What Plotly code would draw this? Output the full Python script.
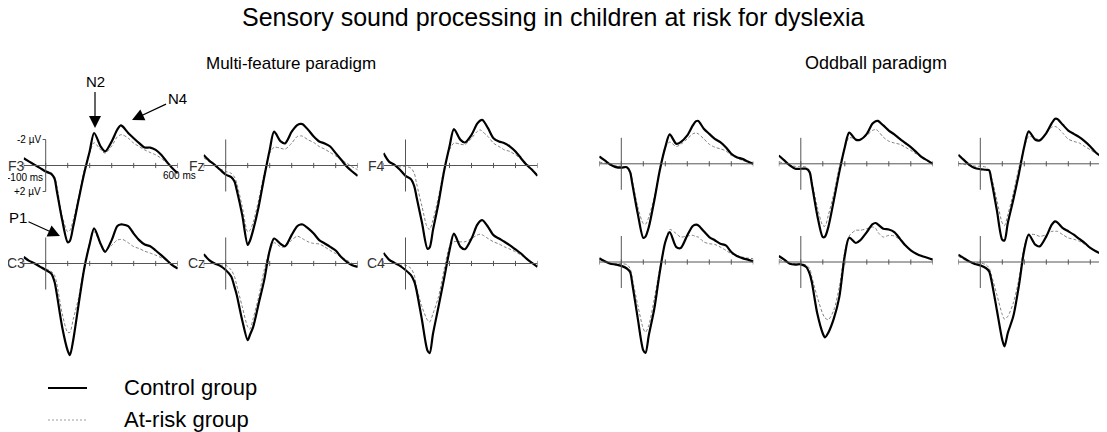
import plotly.graph_objects as go

# ---------------- data (µV, negative up) ----------------
TIME_MS = [-100, -75, -50, -25, 0, 25, 40, 50, 75, 100, 110, 125, 150, 175, 200, 220,
           250, 270, 300, 325, 340, 350, 375, 400, 425, 450, 475, 500, 525, 550, 575, 600]
TICK_MS = [-100, 0, 100, 200, 300, 400, 500, 600]

# Multi-feature paradigm
F3_CONTROL = [-0.56, -0.3, -0.05, 0.2, 0.46, 0.65, 1.0, 1.9, 4.2, 5.9, 5.8, 4.7, 2.6, 0.6, -1.1, -2.5,
              -1.46, -1.08, -1.85, -2.75, -3.08, -3.0, -2.5, -2.1, -1.72, -1.38, -1.38, -1.2, -0.82, -0.3, 0.2, 0.6]
F3_ATRISK = [-0.5, -0.3, -0.05, 0.2, 0.4, 0.55, 0.85, 1.5, 3.9, 5.1, 5.0, 4.2, 2.4, 0.4, -1.0, -1.75,
             -1.2, -0.95, -1.5, -2.2, -2.36, -2.36, -2.1, -1.72, -1.46, -1.2, -1.0, -0.82, -0.56, -0.18, 0.2, 0.6]
FZ_CONTROL = [-0.8, -0.38, -0.05, 0.33, 0.7, 0.9, 1.23, 1.87, 3.8, 6.1, 5.8, 4.95, 3.15, 0.9, -1.2, -2.6,
              -1.85, -1.7, -2.6, -3.1, -3.2, -3.18, -2.74, -2.23, -1.85, -1.7, -1.46, -0.95, -0.44, 0.08, 0.46, 0.8]
FZ_ATRISK = [-0.6, -0.3, -0.05, 0.25, 0.46, 0.6, 0.9, 1.36, 3.15, 5.1, 5.0, 4.36, 2.64, 0.6, -0.95, -1.4,
             -1.33, -1.26, -1.72, -2.23, -2.28, -2.25, -1.97, -1.77, -1.46, -1.26, -1.0, -0.74, -0.45, -0.18, 0.1, 0.33]
F4_CONTROL = [-0.95, -0.3, -0.05, 0.33, 0.8, 1.05, 1.6, 2.4, 4.4, 6.4, 6.3, 4.95, 2.9, 0.46, -1.46, -2.8,
              -1.97, -1.77, -2.36, -3.2, -3.46, -3.5, -2.87, -2.1, -1.85, -1.72, -1.46, -1.08, -0.56, -0.05, 0.33, 0.8]
F4_ATRISK = [-0.9, -0.3, -0.05, 0.1, 0.08, 0.2, 0.6, 1.36, 3.15, 4.8, 4.9, 4.2, 2.4, 0.33, -1.2, -1.72,
             -1.64, -1.6, -2.1, -2.6, -2.74, -2.6, -2.23, -1.72, -1.46, -1.2, -1.08, -0.82, -0.5, -0.18, 0.25, 0.7]
C3_CONTROL = [-0.5, -0.2, 0.0, 0.26, 0.5, 0.77, 1.4, 2.3, 4.9, 6.7, 7.05, 5.9, 3.1, 0.4, -1.5, -2.7,
              -1.5, -0.9, -1.8, -2.87, -3.0, -3.0, -2.87, -2.3, -1.8, -1.46, -1.33, -1.0, -0.64, -0.26, 0.13, 0.38]
C3_ATRISK = [-0.45, -0.2, 0.0, 0.2, 0.4, 0.6, 0.9, 1.5, 3.85, 5.3, 5.3, 4.3, 2.6, 0.2, -1.6, -2.45,
             -1.5, -1.0, -1.4, -1.8, -1.85, -1.85, -1.6, -1.3, -1.15, -0.95, -0.8, -0.64, -0.45, -0.26, 0.05, 0.38]
CZ_CONTROL = [-0.72, -0.26, 0.0, 0.18, 0.5, 1.0, 1.8, 2.4, 4.36, 5.9, 5.5, 4.87, 3.08, 1.28, -1.0, -1.92,
              -1.5, -1.33, -2.2, -2.87, -3.0, -3.0, -2.7, -2.3, -1.8, -1.54, -1.28, -1.0, -0.5, -0.13, 0.13, 0.26]
CZ_ATRISK = [-0.7, -0.26, 0.0, 0.13, 0.13, 0.5, 1.0, 1.67, 3.3, 4.87, 5.05, 4.23, 2.56, 0.5, -1.0, -1.6,
             -1.28, -1.28, -1.8, -2.1, -2.0, -1.9, -1.67, -1.54, -1.5, -1.28, -1.0, -0.77, -0.5, -0.26, 0.0, 0.26]
C4_CONTROL = [-0.82, -0.3, -0.05, 0.18, 0.5, 0.9, 1.4, 2.05, 4.36, 6.7, 6.9, 5.4, 3.33, 1.2, -1.0, -2.3,
              -1.28, -1.1, -1.92, -2.95, -3.28, -3.33, -2.82, -2.18, -1.92, -1.67, -1.4, -1.08, -0.77, -0.38, -0.05, 0.26]
C4_ATRISK = [-0.8, -0.3, -0.05, 0.13, 0.13, 0.38, 0.9, 1.8, 3.33, 4.36, 4.5, 3.85, 2.56, 0.5, -1.28, -1.67,
             -1.67, -1.67, -1.92, -2.18, -2.26, -2.2, -1.92, -1.67, -1.5, -1.28, -1.1, -0.9, -0.65, -0.38, -0.05, 0.26]

# Oddball paradigm
OB_F3_CONTROL = [-0.56, -0.26, 0.05, 0.26, 0.3, 0.26, 0.64, 1.54, 3.85, 5.7, 5.6, 4.87, 2.82, 0.5, -1.28, -2.26,
                 -1.54, -1.67, -2.18, -2.95, -3.28, -3.3, -2.7, -2.3, -1.92, -1.67, -1.28, -0.77, -0.51, -0.38, -0.18, 0.0]
OB_F3_ATRISK = [-0.13, -0.05, 0.1, 0.15, 0.2, 0.25, 0.5, 1.28, 3.33, 4.6, 4.65, 4.1, 2.56, 0.38, -1.28, -1.67,
                -1.33, -1.5, -1.92, -2.3, -2.38, -2.3, -1.92, -1.5, -1.28, -1.15, -1.0, -0.64, -0.45, -0.26, -0.15, -0.05]
OB_FZ_CONTROL = [-0.64, -0.26, 0.13, 0.38, 0.38, 0.38, 0.64, 1.54, 3.97, 5.64, 5.6, 4.87, 2.82, 0.64, -1.28, -2.4,
                 -1.85, -1.85, -2.3, -3.08, -3.28, -3.3, -2.95, -2.56, -2.26, -1.92, -1.6, -1.28, -0.9, -0.51, -0.26, 0.0]
OB_FZ_ATRISK = [-0.15, -0.05, 0.1, 0.2, 0.2, 0.26, 0.5, 1.28, 3.33, 4.74, 4.8, 3.97, 2.3, 0.26, -1.28, -2.0,
                -1.92, -1.85, -2.18, -2.56, -2.64, -2.55, -2.05, -1.74, -1.6, -1.5, -1.28, -1.03, -0.75, -0.46, -0.2, 0.0]
OB_F4_CONTROL = [-0.7, -0.3, 0.08, 0.33, 0.41, 0.46, 0.5, 1.23, 3.54, 5.85, 5.9, 4.56, 2.77, 0.8, -1.33, -2.5,
                 -1.85, -1.8, -2.36, -3.13, -3.46, -3.45, -3.0, -2.56, -2.3, -2.05, -1.72, -1.33, -0.87, -0.56, -0.36, -0.15]
OB_F4_ATRISK = [-0.05, 0.05, 0.1, 0.18, 0.2, 0.25, 0.46, 0.97, 2.77, 4.56, 4.75, 3.92, 2.26, 0.33, -1.3, -2.1,
                -1.97, -1.85, -2.36, -2.82, -2.87, -2.8, -2.36, -1.9, -1.72, -1.6, -1.33, -1.08, -0.8, -0.56, -0.36, -0.18]
OB_C3_CONTROL = [-0.3, -0.05, 0.13, 0.2, 0.3, 0.5, 0.77, 1.67, 4.36, 6.8, 7.0, 5.64, 3.6, 0.77, -1.54, -2.3,
                 -1.15, -1.08, -2.05, -2.77, -2.87, -2.82, -2.36, -1.92, -1.67, -1.41, -1.28, -0.77, -0.46, -0.3, -0.18, -0.05]
OB_C3_ATRISK = [-0.2, 0.0, 0.1, 0.13, 0.13, 0.2, 0.5, 1.28, 3.33, 5.13, 5.4, 4.87, 2.82, 0.5, -1.54, -2.5,
                -2.18, -1.92, -2.0, -2.05, -1.95, -1.92, -1.54, -1.41, -1.35, -1.15, -0.9, -0.64, -0.5, -0.38, -0.3, -0.26]
OB_CZ_CONTROL = [-0.46, -0.18, 0.13, 0.2, 0.18, 0.38, 0.9, 1.54, 3.97, 5.5, 5.8, 5.44, 4.36, 2.7, -0.5, -1.87,
                 -1.46, -1.67, -2.3, -2.9, -3.0, -2.9, -2.56, -2.5, -2.3, -1.8, -1.28, -0.9, -0.64, -0.46, -0.33, -0.18]
OB_CZ_ATRISK = [-0.18, -0.05, 0.1, 0.13, 0.13, 0.25, 0.5, 1.15, 2.7, 4.0, 4.3, 4.44, 3.7, 1.92, -0.77, -2.0,
                -2.44, -2.44, -2.56, -2.7, -2.6, -2.3, -1.92, -2.05, -2.0, -1.72, -1.3, -0.9, -0.64, -0.46, -0.33, -0.18]
OB_C4_CONTROL = [-0.56, -0.3, -0.05, 0.15, 0.26, 0.46, 0.72, 1.36, 3.67, 6.0, 6.5, 5.46, 4.18, 1.87, -0.95, -2.1,
                 -1.33, -1.2, -1.97, -2.87, -3.13, -3.05, -2.6, -2.36, -2.1, -1.77, -1.46, -1.08, -0.82, -0.62, -0.44, -0.3]
OB_C4_ATRISK = [-0.44, -0.2, 0.0, 0.05, 0.08, 0.2, 0.46, 0.97, 2.5, 4.05, 4.4, 4.18, 3.15, 1.36, -1.2, -2.1,
                -2.1, -1.97, -2.1, -2.36, -2.36, -2.36, -2.1, -1.85, -1.75, -1.6, -1.35, -1.08, -0.85, -0.7, -0.44, -0.3]

TITLE = "Sensory sound processing in children at risk for dyslexia"
PARADIGMS = ["Multi-feature paradigm", "Oddball paradigm"]
LEGEND_LABELS = ["Control group", "At-risk group"]

# ---------------- layout constants (page pixels) ----------------
PAGE_W, PAGE_H = 1107, 432
BODY_MARGIN = 8                      # default <body> margin of the html page
W, H = PAGE_W - BODY_MARGIN, PAGE_H - BODY_MARGIN
PX_PER_MS = 0.22
PX_PER_UV = 13.0
UV_TOP, UV_BOTTOM = -4.5, 8.0
FONT = "Arial, Liberation Sans, sans-serif"
AXIS_COLOR = "#555555"

panels = [
    dict(label="F3", x0=23.7, y0=165.5, ctrl=F3_CONTROL, risk=F3_ATRISK),
    dict(label="Fz", x0=203.7, y0=165.5, ctrl=FZ_CONTROL, risk=FZ_ATRISK),
    dict(label="F4", x0=383.5, y0=165.5, ctrl=F4_CONTROL, risk=F4_ATRISK),
    dict(label="C3", x0=23.7, y0=263.5, ctrl=C3_CONTROL, risk=C3_ATRISK),
    dict(label="Cz", x0=203.7, y0=263.5, ctrl=CZ_CONTROL, risk=CZ_ATRISK),
    dict(label="C4", x0=383.5, y0=263.5, ctrl=C4_CONTROL, risk=C4_ATRISK),
    dict(label="", x0=599.3, y0=163.8, ctrl=OB_F3_CONTROL, risk=OB_F3_ATRISK),
    dict(label="", x0=778.8, y0=163.8, ctrl=OB_FZ_CONTROL, risk=OB_FZ_ATRISK),
    dict(label="", x0=958.3, y0=163.8, ctrl=OB_F4_CONTROL, risk=OB_F4_ATRISK),
    dict(label="", x0=599.3, y0=262.0, ctrl=OB_C3_CONTROL, risk=OB_C3_ATRISK),
    dict(label="", x0=778.8, y0=262.0, ctrl=OB_CZ_CONTROL, risk=OB_CZ_ATRISK),
    dict(label="", x0=958.3, y0=262.0, ctrl=OB_C4_CONTROL, risk=OB_C4_ATRISK),
]


def px(x):
    return (x - BODY_MARGIN) / W


def py(y):
    return 1 - (y - BODY_MARGIN) / H


fig = go.Figure()
layout = dict(width=W, height=H, autosize=False,
              margin=dict(l=0, r=0, t=0, b=0, pad=0),
              paper_bgcolor="white", plot_bgcolor="rgba(0,0,0,0)",
              showlegend=False, font=dict(family=FONT, color="black"))
shapes = []
annotations = []

span_ms = TICK_MS[-1] - TICK_MS[0]
for i, p in enumerate(panels, start=1):
    sfx = "" if i == 1 else str(i)
    xr, yr = "x" + sfx, "y" + sfx
    x_end = min(p["x0"] + span_ms * PX_PER_MS, PAGE_W)
    t_end = TICK_MS[0] + (x_end - p["x0"]) / PX_PER_MS
    top_px = p["y0"] + UV_TOP * PX_PER_UV
    bot_px = p["y0"] + UV_BOTTOM * PX_PER_UV
    layout["xaxis" + sfx] = dict(domain=[px(p["x0"]), min(px(x_end), 1.0)], range=[TICK_MS[0], t_end],
                                 visible=False, anchor=yr, fixedrange=True)
    layout["yaxis" + sfx] = dict(domain=[py(bot_px), py(top_px)], range=[UV_BOTTOM, UV_TOP],
                                 visible=False, anchor=xr, fixedrange=True)

    # axis line, time ticks, amplitude bar
    shapes.append(dict(type="line", xref=xr, yref=yr, x0=TICK_MS[0], x1=TICK_MS[-1], y0=0, y1=0,
                       line=dict(color=AXIS_COLOR, width=1)))
    for t in TICK_MS:
        shapes.append(dict(type="line", xref=xr, yref=yr, x0=t, x1=t, y0=-0.2, y1=0.2,
                           line=dict(color=AXIS_COLOR, width=1)))
    shapes.append(dict(type="line", xref=xr, yref=yr, x0=0, x1=0, y0=-2, y1=2,
                       line=dict(color=AXIS_COLOR, width=1)))

    fig.add_trace(go.Scatter(x=TIME_MS, y=p["risk"], xaxis=xr, yaxis=yr, mode="lines",
                             line=dict(color="#808080", width=1, dash="3px,2px", shape="spline", smoothing=0.8),
                             name=LEGEND_LABELS[1], hoverinfo="skip"))
    fig.add_trace(go.Scatter(x=TIME_MS, y=p["ctrl"], xaxis=xr, yaxis=yr, mode="lines",
                             line=dict(color="black", width=2.2, shape="spline", smoothing=0.8),
                             name=LEGEND_LABELS[0], hoverinfo="skip"))

    if p["label"]:
        annotations.append(dict(xref=xr, yref=yr, x=TICK_MS[0], y=0, text=p["label"], showarrow=False,
                                xanchor="right", yanchor="middle", xshift=3,
                                font=dict(size=14, color="#333333")))

    if i == 1:
        for v, txt in [(-2, "-2 µV"), (2, "+2 µV")]:
            shapes.append(dict(type="line", xref=xr, yref=yr, x0=-14, x1=0, y0=v, y1=v,
                               line=dict(color=AXIS_COLOR, width=1)))
            annotations.append(dict(xref=xr, yref=yr, x=0, y=v, text=txt, showarrow=False,
                                    xanchor="right", yanchor="middle", xshift=-3,
                                    font=dict(size=10)))
        annotations.append(dict(xref=xr, yref=yr, x=0, y=0.9, text="-100 ms", showarrow=False,
                                xanchor="right", yanchor="middle", xshift=-1, font=dict(size=10)))
        annotations.append(dict(xref=xr, yref=yr, x=TICK_MS[-1], y=0.8, text="600 ms", showarrow=False,
                                xanchor="center", yanchor="middle", xshift=2, font=dict(size=10)))

# titles
annotations.append(dict(xref="paper", yref="paper", x=px(553.5), y=py(17), text=TITLE, showarrow=False,
                        xanchor="center", yanchor="middle", font=dict(size=25)))
annotations.append(dict(xref="paper", yref="paper", x=px(291), y=py(63), text=PARADIGMS[0], showarrow=False,
                        xanchor="center", yanchor="middle", font=dict(size=17)))
annotations.append(dict(xref="paper", yref="paper", x=px(875.5), y=py(63), text=PARADIGMS[1], showarrow=False,
                        xanchor="center", yanchor="middle", font=dict(size=18)))

# component arrows
for txt, hx, hy, ax, ay in [("N2", 95, 128, 0, -46), ("N4", 132, 120, 45, -21), ("P1", 60, 236, -42, -19)]:
    annotations.append(dict(xref="paper", yref="paper", x=px(hx), y=py(hy), text=txt, showarrow=True,
                            ax=ax, ay=ay, arrowhead=2, arrowsize=2.0, arrowwidth=1.2, arrowcolor="black",
                            standoff=0, font=dict(size=15)))

# legend
shapes.append(dict(type="line", xref="paper", yref="paper", x0=px(48), x1=px(87), y0=py(388), y1=py(388),
                   line=dict(color="black", width=2)))
shapes.append(dict(type="line", xref="paper", yref="paper", x0=px(48), x1=px(87), y0=py(420), y1=py(420),
                   line=dict(color="#9a9a9a", width=1, dash="2px,2px")))
annotations.append(dict(xref="paper", yref="paper", x=px(122), y=py(387), text=LEGEND_LABELS[0],
                        showarrow=False, xanchor="left", yanchor="middle", font=dict(size=22)))
annotations.append(dict(xref="paper", yref="paper", x=px(122), y=py(419), text=LEGEND_LABELS[1],
                        showarrow=False, xanchor="left", yanchor="middle", font=dict(size=22)))

layout["shapes"] = shapes
layout["annotations"] = annotations
fig.update_layout(**layout)
fig.write_html("out.html")
